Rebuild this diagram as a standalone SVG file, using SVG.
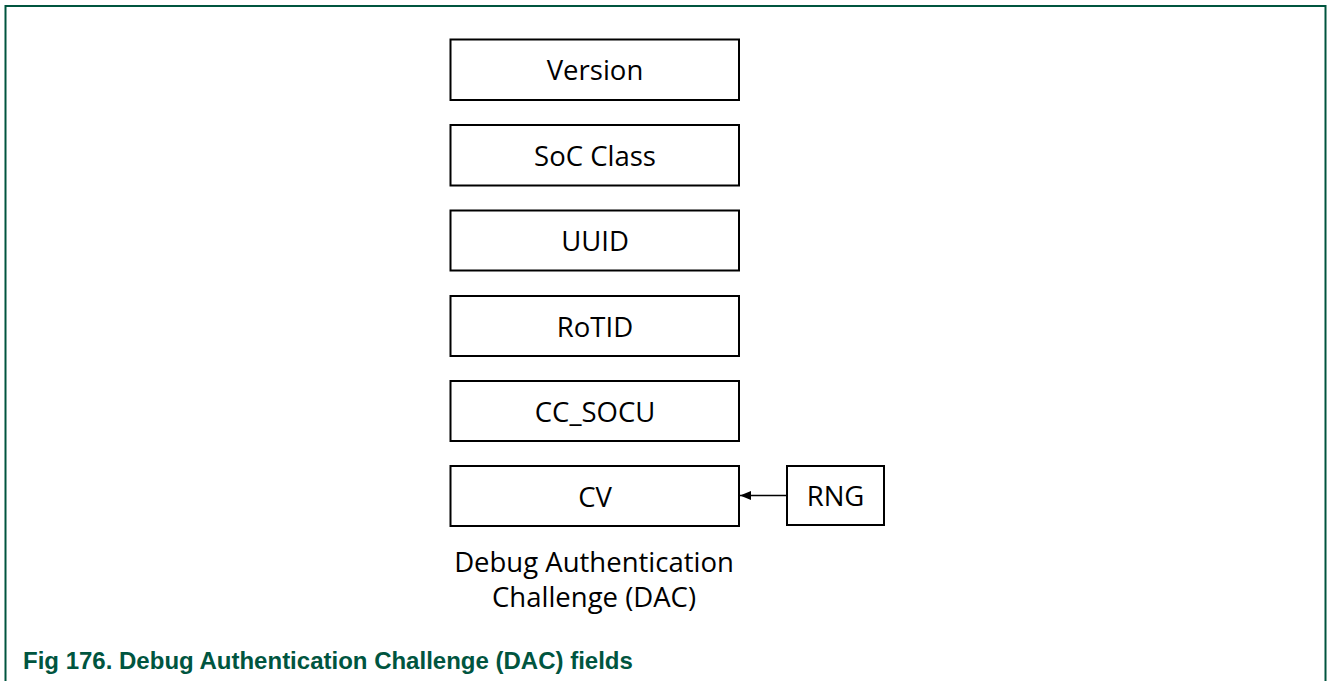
<svg xmlns="http://www.w3.org/2000/svg" width="1327" height="681" viewBox="0 0 1327 681">
<style>
.box{fill:#fff;stroke:#000;stroke-width:2}
.t{font-family:"Open Sans","Noto Sans",sans-serif;font-size:27.5px;fill:#000;text-anchor:middle}
.cap{font-family:"Liberation Sans",Arial,sans-serif;font-weight:bold;font-size:24px;fill:#00553f}
.edge{stroke:#000;stroke-width:1.5;fill:none}
</style>
<defs>
<marker id="ah" viewBox="0 0 11 9" refX="11" refY="4.5" markerWidth="11" markerHeight="9" markerUnits="userSpaceOnUse" orient="auto">
<path d="M0,0 L11,4.5 L0,9 z" fill="#000"/>
</marker>
</defs>
<rect width="1327" height="681" fill="#fff"/>
<path d="M5.5,681 V6 H1325.5 V681" fill="none" stroke="#00553f" stroke-width="2"/>
<g id="n-version"><rect class="box" x="450.5" y="39.5" width="288.5" height="60.5"/><text class="t" x="595" y="80">Version</text></g>
<g id="n-soc"><rect class="box" x="450.5" y="125" width="288.5" height="60.5"/><text class="t" x="595" y="165.5">SoC Class</text></g>
<g id="n-uuid"><rect class="box" x="450.5" y="210.5" width="288.5" height="60"/><text class="t" x="595" y="251">UUID</text></g>
<g id="n-rotid"><rect class="box" x="450.5" y="296" width="288.5" height="60"/><text class="t" x="595" y="336.5">RoTID</text></g>
<g id="n-ccsocu"><rect class="box" x="450.5" y="381" width="288.5" height="60"/><text class="t" x="595" y="421.5">CC_SOCU</text></g>
<g id="n-cv"><rect class="box" x="450.5" y="466" width="288.5" height="60"/><text class="t" x="595" y="506.5">CV</text></g>
<g id="n-rng"><rect class="box" x="787" y="466" width="97" height="59"/><text class="t" x="835.5" y="506">RNG</text></g>
<g id="connectors"><line class="edge" x1="787" y1="495.5" x2="740" y2="495.5" marker-end="url(#ah)"/></g>
<g id="label"><text class="t" x="594" y="572">Debug Authentication</text><text class="t" x="594" y="607">Challenge (DAC)</text></g>
<text class="cap" x="23" y="669">Fig 176. Debug Authentication Challenge (DAC) fields</text>
</svg>
